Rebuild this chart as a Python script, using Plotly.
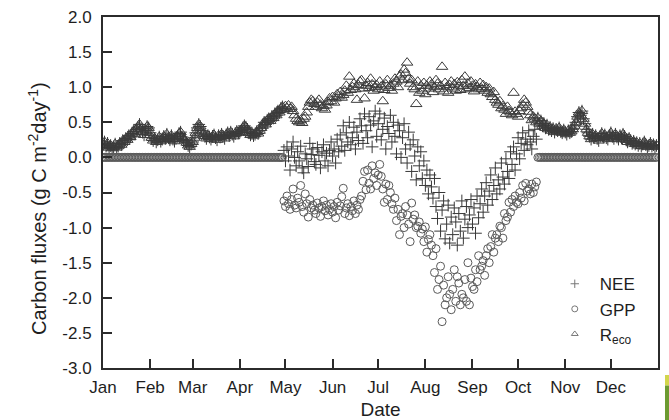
import pandas as pd
import plotly.graph_objects as go

# Daily carbon fluxes over one year (g C m-2 day-1), one value per day of year
dates = pd.date_range("2009-01-01", periods=365, freq="D")

month_starts = pd.date_range("2009-01-01", periods=12, freq="MS")
month_labels = ["Jan", "Feb", "Mar", "Apr", "May", "Jun",
                "Jul", "Aug", "Sep", "Oct", "Nov", "Dec"]

y_ticks = [-3.0, -2.5, -2.0, -1.5, -1.0, -0.5, 0.0, 0.5, 1.0, 1.5, 2.0]
y_labels = ["-3.0", "-2.5", "-2.0", "-1.5", "-1.0", "-0.5",
            "0.0", "0.5", "1.0", "1.5", "2.0"]

reco = [
    0.18, 0.22, 0.16, 0.20, 0.14, 0.17, 0.13, 0.15, 0.19, 0.14,
    0.16, 0.20, 0.18, 0.24, 0.22, 0.27, 0.25, 0.31, 0.29, 0.34,
    0.37, 0.33, 0.40, 0.43, 0.47, 0.41, 0.36, 0.32, 0.38, 0.44,
    0.42, 0.35, 0.28, 0.24, 0.27, 0.22, 0.25, 0.29, 0.23, 0.26,
    0.30, 0.27, 0.33, 0.28, 0.25, 0.31, 0.26, 0.23, 0.27, 0.30,
    0.34, 0.36, 0.29, 0.26, 0.24, 0.21, 0.17, 0.15, 0.19, 0.22,
    0.28, 0.35, 0.42, 0.47, 0.44, 0.38, 0.33, 0.30, 0.27, 0.31,
    0.29, 0.26, 0.30, 0.32, 0.28, 0.25, 0.31, 0.29, 0.33, 0.30,
    0.27, 0.32, 0.35, 0.31, 0.36, 0.33, 0.30, 0.34, 0.37, 0.35,
    0.36, 0.39, 0.42, 0.45, 0.43, 0.40, 0.35, 0.32, 0.34, 0.31,
    0.33, 0.36, 0.34, 0.38, 0.42, 0.45, 0.50, 0.47, 0.53, 0.55,
    0.52, 0.58, 0.56, 0.62, 0.60, 0.66, 0.64, 0.70, 0.72, 0.68,
    0.73, 0.70, 0.74, 0.69, 0.72, 0.66, 0.60, 0.55, 0.52, 0.50,
    0.53, 0.49, 0.55, 0.58, 0.64, 0.72, 0.78, 0.82, 0.80, 0.76,
    0.72, 0.78, 0.82, 0.75, 0.70, 0.73, 0.68, 0.74, 0.79, 0.84,
    0.80, 0.86, 0.78, 0.84, 0.90, 0.87, 0.93, 0.85, 0.89, 0.95,
    1.02, 0.92, 1.15, 0.96, 1.00, 1.05, 0.97, 0.82, 1.03, 1.08,
    1.10, 0.98, 0.84, 1.02, 1.06, 0.99, 1.12, 1.04, 0.95, 1.00,
    1.03, 0.97, 1.08, 1.01, 0.80, 0.96, 1.04, 1.10, 0.99, 1.02,
    0.95, 1.05, 1.12, 1.08, 1.00, 1.15, 1.18, 1.10, 1.25, 1.20,
    1.35, 1.12, 1.05, 1.10, 1.00, 0.97, 0.76, 1.08, 0.92, 1.02,
    0.95, 1.06, 0.90, 1.02, 0.98, 1.08, 1.04, 0.93, 1.00, 1.10,
    1.05, 0.97, 1.02, 1.29, 0.94, 1.06, 1.00, 0.92, 1.03, 1.08,
    0.98, 1.04, 0.95, 1.07, 1.01, 0.96, 1.10, 1.02, 1.15, 0.97,
    1.05, 0.99, 1.08, 1.02, 0.94, 1.04, 1.00, 0.97, 1.06, 0.98,
    1.03, 0.95, 1.00, 0.92, 0.98, 0.90, 0.86, 0.93, 0.82, 0.78,
    0.75, 0.80, 0.70, 0.73, 0.68, 0.62, 0.72, 0.66, 0.64, 0.60,
    0.92, 0.65, 0.62, 0.58, 0.66, 0.70, 0.75, 0.82, 0.78, 0.72,
    0.65, 0.60, 0.53, 0.58, 0.55, 0.50, 0.56, 0.48, 0.52, 0.45,
    0.48, 0.42, 0.46, 0.40, 0.43, 0.38, 0.41, 0.36, 0.40, 0.38,
    0.42, 0.37, 0.35, 0.39, 0.36, 0.33, 0.38, 0.35, 0.37, 0.40,
    0.45, 0.50, 0.58, 0.64, 0.60, 0.66, 0.55, 0.48, 0.40, 0.35,
    0.30, 0.26, 0.33, 0.28, 0.31, 0.27, 0.24, 0.30, 0.34, 0.29,
    0.32, 0.28, 0.26, 0.31, 0.35, 0.30, 0.27, 0.33, 0.29, 0.26,
    0.31, 0.28, 0.33, 0.30, 0.25, 0.22, 0.27, 0.24, 0.20, 0.23,
    0.19, 0.21, 0.17, 0.20, 0.16, 0.19, 0.22, 0.18, 0.15, 0.17,
    0.20, 0.16, 0.18, 0.15, 0.17,
]

gpp = [
    0, 0, 0, 0, 0, 0, 0, 0, 0, 0,
    0, 0, 0, 0, 0, 0, 0, 0, 0, 0,
    0, 0, 0, 0, 0, 0, 0, 0, 0, 0,
    0, 0, 0, 0, 0, 0, 0, 0, 0, 0,
    0, 0, 0, 0, 0, 0, 0, 0, 0, 0,
    0, 0, 0, 0, 0, 0, 0, 0, 0, 0,
    0, 0, 0, 0, 0, 0, 0, 0, 0, 0,
    0, 0, 0, 0, 0, 0, 0, 0, 0, 0,
    0, 0, 0, 0, 0, 0, 0, 0, 0, 0,
    0, 0, 0, 0, 0, 0, 0, 0, 0, 0,
    0, 0, 0, 0, 0, 0, 0, 0, 0, 0,
    0, 0, 0, 0, 0, 0, 0, 0, 0, -0.62,
    -0.70, -0.55, -0.66, -0.74, -0.60, -0.45, -0.68, -0.72, -0.58, -0.64,
    -0.40, -0.70, -0.78, -0.52, -0.66, -0.85, -0.60, -0.72, -0.68, -0.75,
    -0.80, -0.65, -0.72, -0.84, -0.70, -0.62, -0.76, -0.68, -0.82, -0.74,
    -0.66, -0.78, -0.70, -0.86, -0.64, -0.75, -0.69, -0.56, -0.44, -0.80,
    -0.72, -0.66, -0.83, -0.70, -0.76, -0.62, -0.80, -0.68, -0.74, -0.60,
    -0.55, -0.34, -0.20, -0.46, -0.18, -0.37, -0.45, -0.12, -0.30, -0.22,
    -0.40, -0.25, -0.10, -0.27, -0.45, -0.64, -0.38, -0.60, -0.40, -0.50,
    -0.66, -0.74, -0.58, -0.90, -0.74, -1.10, -0.84, -0.80, -1.00, -0.70,
    -0.82, -0.95, -1.20, -0.65, -0.88, -0.82, -1.00, -0.98, -0.92, -1.08,
    -1.02, -1.20, -0.99, -1.35, -1.17, -1.10, -1.25, -1.40, -1.64, -1.30,
    -1.88, -1.74, -1.55, -2.34, -1.82, -2.10, -2.00, -1.70, -1.95, -2.17,
    -1.88, -1.60, -2.05, -1.70, -1.79, -2.10, -1.95, -2.00, -1.74, -2.05,
    -1.50, -2.10, -1.72, -1.84, -1.88, -1.60, -1.77, -1.40, -1.60, -1.55,
    -1.47, -1.68, -1.40, -1.30, -1.50, -1.27, -1.10, -1.35, -1.15, -1.10,
    -1.20, -0.98, -1.00, -1.15, -0.80, -0.90, -0.85, -0.64, -0.78, -0.60,
    -0.70, -0.55, -0.64, -0.66, -0.50, -0.58, -0.40, -0.62, -0.37, -0.48,
    -0.45, -0.52, -0.38, -0.50, -0.42, -0.35, 0, 0, 0, 0,
    0, 0, 0, 0, 0, 0, 0, 0, 0, 0,
    0, 0, 0, 0, 0, 0, 0, 0, 0, 0,
    0, 0, 0, 0, 0, 0, 0, 0, 0, 0,
    0, 0, 0, 0, 0, 0, 0, 0, 0, 0,
    0, 0, 0, 0, 0, 0, 0, 0, 0, 0,
    0, 0, 0, 0, 0, 0, 0, 0, 0, 0,
    0, 0, 0, 0, 0, 0, 0, 0, 0, 0,
    0, 0, 0, 0, 0,
]

nee = [
    0.18, 0.22, 0.16, 0.20, 0.14, 0.17, 0.13, 0.15, 0.19, 0.14,
    0.16, 0.20, 0.18, 0.24, 0.22, 0.27, 0.25, 0.31, 0.29, 0.34,
    0.37, 0.33, 0.40, 0.43, 0.47, 0.41, 0.36, 0.32, 0.38, 0.44,
    0.42, 0.35, 0.28, 0.24, 0.27, 0.22, 0.25, 0.29, 0.23, 0.26,
    0.30, 0.27, 0.33, 0.28, 0.25, 0.31, 0.26, 0.23, 0.27, 0.30,
    0.34, 0.36, 0.29, 0.26, 0.24, 0.21, 0.17, 0.15, 0.19, 0.22,
    0.28, 0.35, 0.42, 0.47, 0.44, 0.38, 0.33, 0.30, 0.27, 0.31,
    0.29, 0.26, 0.30, 0.32, 0.28, 0.25, 0.31, 0.29, 0.33, 0.30,
    0.27, 0.32, 0.35, 0.31, 0.36, 0.33, 0.30, 0.34, 0.37, 0.35,
    0.36, 0.39, 0.42, 0.45, 0.43, 0.40, 0.35, 0.32, 0.34, 0.31,
    0.33, 0.36, 0.34, 0.38, 0.42, 0.45, 0.50, 0.47, 0.53, 0.55,
    0.52, 0.58, 0.56, 0.62, 0.60, 0.66, 0.64, 0.70, 0.72, 0.10,
    -0.05, 0.15, 0.02, -0.18, 0.12, 0.22, 0.00, -0.12, 0.08, -0.05,
    0.16, -0.15, -0.22, 0.05, -0.02, -0.13, 0.20, 0.04, 0.12, -0.06,
    -0.10, 0.14, 0.03, -0.15, 0.08, 0.18, -0.05, 0.06, -0.12, 0.10,
    0.22, 0.02, 0.12, -0.08, 0.26, 0.08, 0.32, 0.16, 0.45, 0.10,
    0.35, 0.22, 0.50, 0.18, 0.28, 0.43, 0.12, 0.36, 0.24, 0.55,
    0.45, 0.20, 0.62, 0.38, 0.28, 0.58, 0.46, 0.15, 0.52, 0.66,
    0.30, 0.48, 0.62, 0.25, 0.40, 0.56, 0.12, 0.44, 0.34, 0.60,
    0.22, 0.50, 0.30, 0.05, 0.46, 0.38, 0.00, 0.28, 0.48, 0.12,
    -0.08, 0.36, 0.18, -0.20, 0.25, 0.02, -0.32, 0.15, -0.12, 0.08,
    -0.30, -0.05, -0.40, -0.18, -0.52, -0.25, -0.42, -0.58, -0.30, -0.70,
    -0.87, -0.50, -1.05, -0.75, -0.62, -1.16, -0.95, -0.68, -1.22, -0.85,
    -1.10, -0.72, -0.92, -1.25, -0.80, -1.05, -0.62, -1.15, -0.88, -0.70,
    -1.00, -0.82, -0.60, -0.95, -0.72, -1.08, -0.55, -0.86, -0.66, -0.45,
    -0.78, -0.55, -0.36, -0.68, -0.48, -0.25, -0.60, -0.40, -0.15, -0.52,
    -0.32, -0.45, -0.08, -0.28, -0.38, -0.02, -0.20, -0.30, 0.08, -0.10,
    0.15, -0.18, 0.05, 0.28, -0.02, 0.20, 0.35, 0.10, 0.26, 0.18,
    0.38, 0.22, 0.12, 0.30, 0.40, 0.26, 0.56, 0.48, 0.52, 0.45,
    0.48, 0.42, 0.46, 0.40, 0.43, 0.38, 0.41, 0.36, 0.40, 0.38,
    0.42, 0.37, 0.35, 0.39, 0.36, 0.33, 0.38, 0.35, 0.37, 0.40,
    0.45, 0.50, 0.58, 0.64, 0.60, 0.66, 0.55, 0.48, 0.40, 0.35,
    0.30, 0.26, 0.33, 0.28, 0.31, 0.27, 0.24, 0.30, 0.34, 0.29,
    0.32, 0.28, 0.26, 0.31, 0.35, 0.30, 0.27, 0.33, 0.29, 0.26,
    0.31, 0.28, 0.33, 0.30, 0.25, 0.22, 0.27, 0.24, 0.20, 0.23,
    0.19, 0.21, 0.17, 0.20, 0.16, 0.19, 0.22, 0.18, 0.15, 0.17,
    0.20, 0.16, 0.18, 0.15, 0.17,
]

FONT = "Liberation Sans, Arial, Helvetica, sans-serif"
AXIS = "#2b2b2b"
TEXT = "#1e1e1e"

series = [
    ("NEE", nee, "cross-thin-open", 9, "#383838"),
    ("GPP", gpp, "circle-open", 8, "#5a5a5a"),
    ("R<sub>eco</sub>", reco, "triangle-up-open", 10, "#3c3c3c"),
]

fig = go.Figure()
for name, values, symbol, size, colour in series:
    # data markers
    fig.add_trace(go.Scatter(
        x=dates, y=values, mode="markers", name=name, showlegend=False,
        marker=dict(symbol=symbol, size=size, color=colour,
                    line=dict(color=colour, width=1)),
    ))
for name, values, symbol, size, colour in series:
    # smaller key symbols for the legend
    fig.add_trace(go.Scatter(
        x=[None], y=[None], mode="markers", name=name,
        marker=dict(symbol=symbol, size=6, color="#777777",
                    line=dict(color="#777777", width=1)),
    ))

fig.update_layout(
    width=669, height=420,
    margin=dict(l=103, r=11, t=17, b=52),
    paper_bgcolor="white", plot_bgcolor="white",
    font=dict(family=FONT, size=17, color=TEXT),
    legend=dict(
        x=0.805, y=0.29, xanchor="left", yanchor="top",
        bgcolor="rgba(0,0,0,0)", borderwidth=0,
        font=dict(family=FONT, size=17, color=TEXT),
        itemwidth=40, tracegroupgap=0,
    ),
    xaxis=dict(
        type="date", range=["2009-01-01", "2010-01-01"],
        tickvals=month_starts, ticktext=month_labels,
        ticks="inside", ticklen=9, tickwidth=1.5, tickcolor=AXIS,
        showline=True, linecolor=AXIS, linewidth=2, mirror=True,
        showgrid=False, zeroline=False, ticklabelstandoff=3,
        automargin=False,
        tickfont=dict(family=FONT, size=17, color=TEXT),
        title=dict(text="Date", font=dict(family=FONT, size=19, color=TEXT),
                   standoff=15),
    ),
    yaxis=dict(
        range=[-3, 2], tickvals=y_ticks, ticktext=y_labels,
        ticks="inside", ticklen=9, tickwidth=1.5, tickcolor=AXIS,
        showline=True, linecolor=AXIS, linewidth=2, mirror=True,
        showgrid=False, zeroline=False, ticklabelstandoff=6,
        automargin=False,
        tickfont=dict(family=FONT, size=17, color=TEXT),
    ),
    annotations=[dict(
        text="Carbon fluxes (g C m<sup>-2</sup>day<sup>-1</sup>)",
        xref="paper", yref="paper", x=-0.117, y=0.453,
        xanchor="center", yanchor="middle", textangle=-90, showarrow=False,
        font=dict(family=FONT, size=20, color=TEXT),
    )],
    shapes=[
        dict(type="rect", xref="paper", yref="paper",
             x0=1.0126, x1=1.03, y0=-0.02, y1=-0.05,
             fillcolor="#d2d64c", line=dict(width=0)),
        dict(type="rect", xref="paper", yref="paper",
             x0=1.0126, x1=1.03, y0=-0.05, y1=-0.2,
             fillcolor="#6c9a30", line=dict(width=0)),
    ],
)

fig.write_html("out.html")
